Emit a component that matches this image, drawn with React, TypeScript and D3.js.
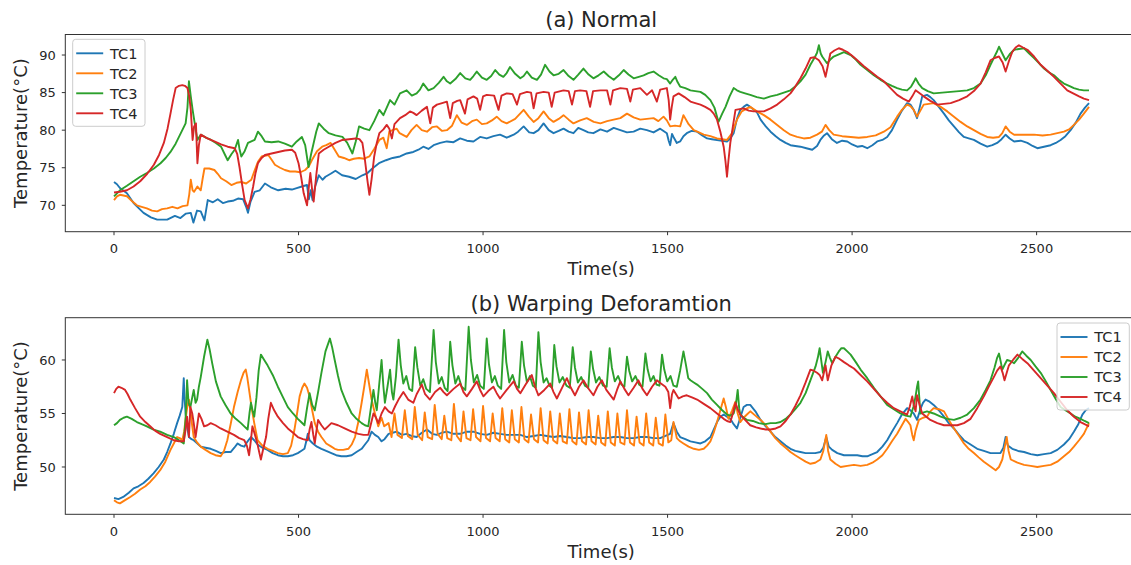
import React from 'react';
import * as d3 from 'd3';

type P = [number, number];

const xTicks = [0, 500, 1000, 1500, 2000, 2500];
const normalYTicks = [70, 75, 80, 85, 90];
const warpYTicks = [50, 55, 60];
const seriesNames = ['TC1', 'TC2', 'TC3', 'TC4'];
const seriesColors = ['#1f77b4', '#ff7f0e', '#2ca02c', '#d62728'];
const titles = ['(a) Normal', '(b) Warping Deforamtion'];
const xLabel = 'Time(s)';
const yLabel = 'Temperature(°C)';

const normalTC1: P[] = [[0,73.1],[8,72.8],[16,72.3],[35,71.6],[53,70.3],[80,69.0],[100,68.4],[117,68.1],[144,68.1],[165,68.6],[180,68.3],[195,68.9],[208,69.0],[215,67.7],[225,69.3],[235,69.2],[245,68.0],[254,70.7],[268,70.4],[281,70.8],[295,70.3],[308,70.5],[322,70.6],[336,70.9],[350,70.8],[358,69.8],[363,69.0],[370,70.5],[381,71.8],[395,72.0],[409,72.9],[425,72.4],[445,72.0],[465,72.2],[482,72.1],[495,72.3],[509,72.5],[523,72.7],[528,70.8],[533,72.0],[538,70.7],[545,72.5],[555,74.0],[565,73.4],[573,73.8],[587,74.2],[600,74.6],[618,74.0],[637,73.8],[655,73.5],[673,74.0],[687,74.3],[700,74.9],[718,75.6],[737,76.0],[755,76.3],[775,76.5],[793,76.9],[811,77.1],[825,77.4],[838,77.8],[852,77.5],[866,78.0],[884,78.3],[902,78.5],[920,78.4],[938,78.9],[956,78.6],[974,78.5],[992,79.1],[1010,78.9],[1028,79.2],[1046,79.4],[1064,79.0],[1083,79.4],[1095,79.8],[1110,80.5],[1125,79.7],[1137,79.6],[1150,80.0],[1164,80.9],[1178,80.0],[1191,79.6],[1205,79.9],[1218,80.2],[1232,79.8],[1245,79.6],[1258,80.3],[1272,80.0],[1285,79.7],[1299,79.6],[1318,80.1],[1336,79.8],[1354,80.3],[1372,80.0],[1390,79.7],[1408,79.8],[1426,80.2],[1444,80.0],[1462,79.7],[1480,80.2],[1498,79.6],[1503,78.6],[1507,78.0],[1512,79.5],[1516,79.1],[1525,78.3],[1534,78.5],[1543,79.2],[1552,79.6],[1565,79.9],[1580,79.8],[1594,79.3],[1607,78.9],[1620,78.8],[1634,78.7],[1648,78.6],[1661,78.5],[1670,78.9],[1679,79.6],[1688,81.5],[1697,82.7],[1706,83.1],[1715,83.4],[1724,83.1],[1742,82.4],[1752,81.4],[1766,80.5],[1779,79.8],[1793,79.2],[1806,78.7],[1820,78.3],[1833,78.0],[1846,77.9],[1860,77.8],[1876,77.6],[1892,77.4],[1905,77.9],[1914,78.7],[1924,79.3],[1932,79.6],[1945,78.8],[1959,78.3],[1973,78.6],[1987,78.5],[2000,78.1],[2014,77.8],[2027,77.9],[2041,77.6],[2055,78.0],[2068,78.5],[2082,78.7],[2095,79.1],[2108,80.0],[2122,81.4],[2135,82.6],[2149,83.6],[2158,83.4],[2167,82.7],[2176,81.6],[2183,83.0],[2190,84.5],[2203,84.7],[2212,84.4],[2221,84.0],[2235,83.1],[2249,82.2],[2262,81.3],[2276,80.5],[2290,79.7],[2303,79.1],[2316,78.9],[2330,78.7],[2348,78.2],[2366,77.8],[2380,78.0],[2393,78.3],[2405,78.8],[2416,79.4],[2427,78.9],[2439,78.5],[2457,78.6],[2475,78.3],[2489,77.9],[2502,77.6],[2520,77.8],[2538,78.0],[2552,78.3],[2565,78.7],[2578,79.2],[2592,80.0],[2606,81.0],[2619,82.2],[2631,83.0],[2642,83.6]];

const normalTC2: P[] = [[0,70.7],[8,71.2],[16,71.4],[35,71.2],[50,70.5],[62,70.0],[75,69.8],[89,69.6],[103,69.3],[117,69.2],[130,69.5],[144,69.6],[158,69.8],[172,69.6],[186,69.9],[199,70.0],[204,71.5],[208,73.4],[213,72.0],[217,71.8],[226,72.5],[235,72.0],[240,73.5],[245,74.9],[258,74.9],[272,74.7],[281,74.2],[290,73.6],[304,73.2],[318,72.7],[332,73.0],[345,73.1],[358,72.9],[372,73.4],[380,74.5],[390,75.8],[400,76.5],[418,76.7],[428,76.0],[436,75.4],[450,75.0],[463,74.7],[477,74.5],[491,74.5],[505,74.4],[518,74.7],[528,75.2],[536,76.0],[550,77.2],[564,77.8],[575,78.0],[587,78.3],[598,77.4],[609,76.5],[623,76.3],[637,76.0],[650,76.2],[664,76.3],[678,76.2],[692,76.5],[705,77.5],[719,78.7],[730,79.0],[739,77.6],[746,79.8],[755,80.0],[766,80.2],[774,79.6],[793,79.1],[806,80.0],[820,80.7],[834,80.0],[848,79.8],[862,80.4],[875,80.5],[889,79.9],[902,80.0],[916,80.6],[929,82.0],[942,81.0],[956,80.7],[970,81.2],[983,81.4],[997,80.8],[1010,80.9],[1024,81.3],[1037,81.8],[1050,81.2],[1064,80.9],[1087,81.5],[1110,82.7],[1124,81.8],[1137,81.1],[1150,81.6],[1164,82.5],[1178,81.6],[1191,81.1],[1205,81.5],[1218,82.0],[1232,81.4],[1245,80.9],[1263,81.3],[1281,81.6],[1300,81.1],[1318,80.9],[1336,81.2],[1354,81.4],[1372,81.6],[1390,82.2],[1408,81.7],[1426,81.4],[1444,81.5],[1462,81.6],[1475,81.2],[1489,81.8],[1498,81.3],[1507,80.5],[1520,80.6],[1534,80.5],[1543,82.0],[1557,80.8],[1571,80.0],[1585,79.7],[1598,79.4],[1616,79.2],[1634,78.9],[1648,78.8],[1661,78.7],[1675,79.6],[1688,81.4],[1701,82.5],[1715,82.9],[1724,83.1],[1742,82.5],[1761,82.0],[1779,81.4],[1797,80.7],[1815,80.0],[1833,79.4],[1851,79.1],[1869,78.9],[1887,79.0],[1905,79.4],[1918,79.8],[1928,80.7],[1938,80.0],[1950,79.4],[1973,79.2],[1996,79.1],[2018,79.0],[2041,79.1],[2064,79.3],[2086,79.8],[2104,80.4],[2122,81.8],[2135,82.7],[2149,83.4],[2158,83.2],[2167,82.7],[2176,81.8],[2185,82.6],[2194,83.4],[2208,83.5],[2221,83.6],[2240,83.1],[2258,82.5],[2276,81.8],[2294,81.1],[2312,80.5],[2330,80.0],[2348,79.5],[2366,79.1],[2382,79.0],[2398,79.1],[2407,79.6],[2416,80.5],[2427,79.8],[2439,79.4],[2466,79.4],[2493,79.4],[2516,79.3],[2538,79.4],[2556,79.6],[2574,79.8],[2588,80.1],[2601,80.7],[2615,81.4],[2628,82.2],[2642,83.1]];

const normalTC3: P[] = [[0,71.2],[8,71.6],[16,72.0],[35,72.6],[53,73.2],[71,73.8],[89,74.3],[108,74.9],[126,75.6],[140,76.3],[153,77.1],[167,78.2],[181,79.6],[194,80.9],[199,83.0],[203,86.5],[208,84.5],[213,82.7],[220,80.5],[226,78.7],[235,79.4],[249,79.0],[263,78.7],[276,78.3],[290,77.8],[300,76.8],[308,76.0],[318,76.8],[327,77.4],[336,78.7],[340,77.5],[345,76.5],[354,77.2],[363,78.3],[372,78.5],[381,78.7],[390,79.8],[400,79.2],[409,78.5],[427,78.4],[445,78.5],[463,78.2],[482,77.8],[495,78.5],[509,79.1],[518,78.0],[527,75.1],[534,76.8],[541,78.3],[548,79.8],[555,80.9],[568,80.2],[582,79.6],[600,79.3],[619,79.1],[632,78.3],[646,76.9],[655,78.5],[664,80.5],[678,80.2],[692,80.0],[705,81.2],[719,82.7],[730,82.0],[739,83.0],[748,84.0],[760,83.4],[775,84.9],[793,85.3],[807,84.6],[820,84.9],[829,85.4],[838,86.2],[852,85.3],[866,85.6],[880,86.3],[893,87.1],[902,86.5],[911,86.2],[925,86.8],[938,87.6],[952,86.9],[965,86.7],[974,87.2],[983,87.8],[997,87.0],[1010,86.7],[1022,87.2],[1033,88.0],[1044,87.4],[1055,87.1],[1064,87.6],[1073,88.4],[1087,87.5],[1101,86.9],[1110,87.2],[1119,87.8],[1132,87.0],[1146,86.7],[1157,87.4],[1168,88.7],[1180,87.8],[1191,87.3],[1205,87.5],[1218,88.0],[1232,87.2],[1245,86.7],[1258,87.4],[1272,88.2],[1286,87.4],[1299,86.9],[1313,87.3],[1327,87.8],[1340,87.2],[1354,86.7],[1368,87.3],[1381,88.0],[1394,87.4],[1408,86.9],[1422,87.1],[1435,87.3],[1448,87.6],[1462,87.8],[1476,87.3],[1489,86.9],[1498,86.8],[1507,86.2],[1514,86.7],[1521,87.1],[1527,86.4],[1534,85.8],[1548,85.6],[1562,85.3],[1575,85.2],[1589,85.1],[1602,84.7],[1616,84.0],[1627,83.0],[1638,81.1],[1648,82.2],[1657,83.1],[1668,84.5],[1679,85.6],[1688,85.3],[1697,85.1],[1710,84.9],[1724,84.7],[1742,84.4],[1761,84.2],[1779,84.5],[1797,84.7],[1815,85.0],[1833,85.3],[1846,85.8],[1860,86.5],[1874,87.4],[1887,88.7],[1900,89.8],[1905,90.3],[1910,91.3],[1915,90.2],[1919,89.8],[1932,88.9],[1941,89.4],[1950,89.8],[1964,90.1],[1978,90.4],[1996,90.0],[2010,89.4],[2023,88.7],[2041,88.0],[2059,87.3],[2077,86.7],[2095,86.2],[2108,85.9],[2122,85.6],[2135,85.4],[2149,85.3],[2160,85.8],[2167,86.4],[2172,86.9],[2180,86.2],[2190,85.6],[2205,85.2],[2221,84.9],[2244,85.0],[2267,85.1],[2290,85.2],[2312,85.3],[2330,85.6],[2348,86.2],[2362,87.3],[2375,88.7],[2386,89.8],[2393,90.5],[2398,91.1],[2407,90.2],[2416,89.3],[2427,90.1],[2439,90.7],[2452,90.8],[2466,90.9],[2480,90.2],[2493,89.6],[2507,88.9],[2520,88.2],[2533,87.7],[2547,87.3],[2560,86.7],[2574,86.2],[2588,85.9],[2601,85.6],[2615,85.4],[2628,85.3],[2642,85.3]];

const normalTC4: P[] = [[0,71.7],[16,71.8],[35,72.0],[53,72.5],[71,73.2],[90,74.2],[108,75.4],[122,76.7],[135,78.3],[145,80.2],[153,82.2],[160,84.0],[167,85.6],[176,85.9],[185,86.0],[192,85.9],[199,85.6],[204,84.5],[208,82.7],[213,78.7],[217,80.5],[222,80.9],[226,75.6],[230,78.0],[235,79.4],[253,78.9],[272,78.5],[290,78.1],[308,77.8],[327,77.6],[334,76.8],[340,75.1],[347,72.8],[354,70.7],[363,69.6],[370,70.8],[377,72.5],[383,74.2],[390,75.6],[400,76.3],[409,76.7],[427,76.9],[445,77.1],[463,77.3],[482,77.4],[491,77.0],[500,75.6],[507,73.8],[514,71.6],[523,70.0],[528,72.5],[532,74.3],[537,72.0],[541,70.5],[548,74.0],[555,76.9],[568,77.4],[582,77.8],[600,78.3],[619,78.7],[637,78.8],[655,78.9],[665,78.8],[673,78.3],[680,76.0],[687,73.2],[692,71.4],[698,73.5],[705,76.5],[712,78.3],[719,79.6],[730,80.1],[739,80.7],[746,80.2],[753,78.9],[760,80.8],[775,81.6],[789,82.0],[802,82.5],[811,82.3],[820,82.0],[834,82.6],[848,83.1],[857,80.9],[864,83.0],[875,83.4],[889,83.6],[902,83.8],[911,81.6],[918,83.6],[930,83.9],[938,84.0],[951,82.2],[958,84.1],[974,84.5],[984,84.2],[992,82.7],[1000,84.5],[1010,84.7],[1030,84.6],[1042,82.7],[1050,84.6],[1064,84.9],[1080,84.8],[1092,83.4],[1100,84.8],[1119,85.1],[1130,85.0],[1137,82.9],[1145,84.9],[1164,85.1],[1178,85.0],[1186,83.1],[1194,85.0],[1218,85.3],[1232,85.2],[1241,83.4],[1249,85.2],[1263,85.3],[1280,85.2],[1290,83.1],[1298,85.2],[1318,85.3],[1336,85.3],[1345,83.4],[1352,85.3],[1372,85.6],[1390,85.5],[1399,83.8],[1406,85.4],[1426,85.6],[1444,84.7],[1458,85.3],[1471,83.8],[1480,85.4],[1498,85.6],[1503,84.0],[1507,81.4],[1511,83.0],[1516,84.5],[1530,84.9],[1546,84.4],[1562,83.8],[1575,83.6],[1589,83.4],[1602,83.1],[1616,82.7],[1625,82.2],[1634,81.4],[1643,79.8],[1652,77.8],[1657,75.8],[1661,73.8],[1665,76.0],[1670,78.3],[1677,80.5],[1684,82.7],[1695,82.8],[1706,82.9],[1720,82.6],[1733,82.5],[1747,82.5],[1761,82.5],[1779,82.9],[1797,83.4],[1815,84.1],[1833,84.9],[1846,85.8],[1860,86.9],[1874,88.2],[1887,89.6],[1898,89.7],[1910,89.3],[1920,88.5],[1928,87.1],[1934,88.5],[1941,90.2],[1952,90.6],[1964,90.9],[1975,90.7],[1987,90.4],[2000,89.9],[2014,89.3],[2032,88.5],[2050,87.8],[2068,87.1],[2086,86.5],[2104,85.6],[2122,84.7],[2138,84.2],[2154,83.8],[2163,84.5],[2172,85.3],[2183,84.9],[2194,84.5],[2212,83.9],[2231,83.4],[2249,83.5],[2267,83.6],[2290,84.0],[2312,84.5],[2330,85.2],[2348,86.2],[2362,87.7],[2375,89.3],[2386,89.6],[2398,89.8],[2408,89.0],[2416,87.8],[2425,89.2],[2434,90.4],[2443,91.0],[2452,91.3],[2463,91.0],[2475,90.7],[2493,89.8],[2511,88.7],[2529,87.9],[2547,87.1],[2565,86.2],[2583,85.3],[2599,84.9],[2615,84.5],[2628,84.2],[2642,84.0]];

const warpTC1: P[] = [[0,47.1],[12,47.0],[25,47.2],[40,47.6],[53,48.0],[66,48.2],[80,48.5],[93,48.9],[107,49.4],[121,50.0],[135,50.7],[144,51.4],[153,52.2],[162,53.1],[171,54.1],[178,54.8],[185,55.6],[189,58.3],[191,56.5],[194,55.0],[198,53.8],[203,52.8],[210,52.6],[216,52.5],[226,52.2],[235,51.9],[248,51.8],[262,51.7],[276,51.5],[289,51.3],[303,51.4],[316,51.4],[326,51.8],[335,52.2],[344,52.0],[353,51.9],[362,52.4],[371,52.8],[380,52.5],[389,52.1],[402,51.8],[416,51.6],[430,51.3],[444,51.1],[458,51.0],[471,51.0],[485,51.1],[498,51.3],[507,51.5],[516,51.7],[521,52.4],[525,53.1],[530,52.5],[539,52.2],[550,51.9],[562,51.7],[575,51.5],[589,51.3],[602,51.1],[616,51.0],[630,51.0],[644,51.1],[657,51.4],[671,51.7],[680,52.1],[689,52.5],[698,53.3],[707,53.0],[716,52.8],[725,52.4],[733,52.6],[744,53.1],[755,53.2],[766,53.3],[780,53.0],[793,53.1],[806,52.9],[820,52.8],[834,53.2],[848,53.5],[862,53.1],[875,53.0],[888,53.2],[902,53.3],[920,53.1],[938,53.1],[956,53.3],[974,53.3],[992,53.1],[1010,53.0],[1028,53.2],[1046,53.1],[1064,53.0],[1083,53.0],[1101,53.0],[1119,52.8],[1137,52.9],[1155,53.0],[1173,52.9],[1191,52.8],[1209,52.9],[1227,52.8],[1245,52.7],[1263,52.7],[1281,52.8],[1299,52.8],[1318,52.7],[1336,52.7],[1354,52.8],[1372,52.8],[1390,52.7],[1408,52.7],[1426,52.8],[1444,52.8],[1462,52.7],[1480,52.7],[1494,52.9],[1507,53.1],[1516,54.1],[1525,53.3],[1534,52.8],[1548,52.6],[1562,52.4],[1575,52.3],[1589,52.2],[1602,52.4],[1616,52.8],[1625,53.5],[1634,54.2],[1643,54.7],[1652,54.9],[1661,54.7],[1670,54.5],[1679,54.0],[1688,53.6],[1697,54.6],[1706,55.6],[1715,55.8],[1724,55.8],[1738,55.2],[1752,54.4],[1766,53.8],[1779,53.3],[1792,52.8],[1806,52.4],[1820,52.0],[1833,51.7],[1846,51.5],[1860,51.4],[1874,51.3],[1887,51.3],[1900,51.3],[1914,51.4],[1922,51.8],[1930,52.8],[1937,51.9],[1946,51.6],[1960,51.3],[1978,51.1],[1996,51.1],[2014,51.1],[2028,51.0],[2041,51.0],[2055,51.2],[2068,51.4],[2082,51.9],[2095,52.5],[2108,53.3],[2122,54.1],[2135,54.9],[2149,55.5],[2158,55.3],[2167,55.0],[2176,54.4],[2185,55.4],[2192,56.0],[2199,56.3],[2210,56.1],[2221,55.8],[2235,55.3],[2249,54.7],[2262,54.1],[2276,53.6],[2290,53.0],[2303,52.5],[2321,52.1],[2339,51.7],[2357,51.5],[2375,51.3],[2389,51.3],[2402,51.3],[2410,51.8],[2416,52.8],[2422,52.0],[2434,51.7],[2450,51.5],[2466,51.4],[2484,51.2],[2502,51.1],[2520,51.2],[2538,51.3],[2556,51.6],[2574,52.1],[2588,52.6],[2601,53.3],[2613,54.0],[2624,54.9],[2633,55.3],[2642,55.5]];

const warpTC2: P[] = [[0,46.9],[8,46.7],[16,46.6],[30,46.9],[44,47.2],[57,47.5],[71,47.9],[85,48.2],[98,48.6],[111,49.1],[125,49.7],[139,50.5],[153,51.6],[162,52.2],[171,52.8],[178,52.7],[185,52.5],[190,53.3],[194,54.5],[198,55.5],[203,56.3],[208,55.0],[212,53.8],[216,52.8],[225,52.3],[235,51.9],[248,51.6],[262,51.3],[275,51.1],[289,51.0],[298,51.5],[307,52.5],[316,54.0],[325,55.6],[335,57.0],[344,58.1],[351,58.8],[357,59.1],[361,58.4],[366,57.2],[373,55.5],[380,54.1],[385,53.2],[389,52.5],[402,52.0],[416,51.7],[430,51.5],[444,51.3],[458,51.2],[471,51.3],[480,52.0],[489,53.5],[496,55.0],[503,56.6],[510,57.4],[516,57.8],[523,57.4],[530,56.6],[537,55.3],[544,54.1],[553,53.3],[562,52.8],[575,52.2],[589,51.9],[598,51.7],[607,51.6],[621,51.6],[635,51.7],[644,52.1],[653,52.8],[662,54.2],[671,56.0],[678,57.5],[685,59.1],[691,57.8],[698,56.3],[707,55.0],[716,53.8],[725,54.6],[732,53.8],[744,54.1],[752,52.8],[760,55.0],[768,53.0],[780,52.7],[788,55.3],[796,52.9],[808,52.6],[815,55.6],[823,53.0],[835,52.5],[842,55.1],[850,52.8],[862,52.6],[869,55.8],[877,53.1],[888,52.6],[895,54.8],[903,52.7],[914,52.5],[921,55.9],[929,52.9],[940,52.4],[947,55.2],[955,52.7],[966,52.5],[973,55.4],[981,52.8],[993,52.4],[1000,55.7],[1008,52.7],[1019,52.4],[1026,55.0],[1034,52.7],[1045,52.4],[1052,55.5],[1060,52.6],[1071,52.3],[1078,55.3],[1086,52.6],[1097,52.3],[1104,55.6],[1112,52.6],[1123,52.3],[1130,54.9],[1138,52.6],[1149,52.3],[1156,55.5],[1164,52.5],[1175,52.2],[1182,55.2],[1190,52.5],[1201,52.2],[1208,55.0],[1216,52.4],[1227,52.2],[1234,55.4],[1242,52.4],[1253,52.1],[1260,55.1],[1268,52.4],[1279,52.1],[1286,55.3],[1294,52.4],[1305,52.1],[1312,54.8],[1320,52.3],[1331,52.0],[1338,55.2],[1346,52.3],[1357,52.0],[1364,55.0],[1372,52.3],[1383,52.1],[1390,55.3],[1398,52.3],[1409,52.0],[1416,54.7],[1424,52.3],[1435,52.0],[1442,55.0],[1450,52.3],[1461,52.0],[1468,54.6],[1476,52.2],[1487,52.0],[1494,54.9],[1502,52.3],[1510,52.5],[1516,54.2],[1525,52.7],[1534,52.4],[1543,52.2],[1557,51.9],[1571,51.7],[1585,51.6],[1598,51.7],[1607,52.0],[1616,52.4],[1625,53.2],[1634,54.2],[1643,55.3],[1652,56.4],[1658,55.6],[1665,54.5],[1675,55.3],[1684,56.1],[1690,55.0],[1697,54.2],[1706,54.6],[1715,54.9],[1724,55.2],[1738,54.8],[1752,54.4],[1766,53.9],[1779,53.3],[1792,52.7],[1806,52.2],[1820,51.8],[1833,51.4],[1846,51.1],[1860,50.8],[1874,50.5],[1887,50.3],[1900,50.4],[1914,50.7],[1922,51.5],[1930,53.0],[1935,51.5],[1941,50.7],[1955,50.3],[1969,50.0],[1987,50.1],[2005,50.2],[2023,50.1],[2041,50.2],[2055,50.4],[2068,50.7],[2082,51.1],[2095,51.7],[2108,52.4],[2122,53.1],[2135,53.9],[2145,54.5],[2152,54.2],[2158,53.9],[2163,53.0],[2167,52.5],[2172,53.4],[2181,54.4],[2192,54.6],[2203,54.7],[2212,55.2],[2221,55.5],[2235,55.4],[2249,55.2],[2262,54.4],[2276,53.6],[2290,52.9],[2303,52.2],[2316,51.7],[2330,51.3],[2343,50.9],[2357,50.5],[2373,50.1],[2389,49.7],[2398,50.0],[2407,50.7],[2413,51.8],[2419,52.8],[2424,51.5],[2430,50.7],[2448,50.4],[2466,50.2],[2484,50.1],[2502,50.0],[2520,50.1],[2538,50.2],[2556,50.5],[2574,51.0],[2588,51.4],[2601,51.9],[2615,52.5],[2628,53.1],[2642,54.1]];

const warpTC3: P[] = [[0,53.9],[8,54.1],[16,54.4],[26,54.6],[35,54.7],[48,54.5],[62,54.2],[75,54.0],[89,53.8],[107,53.5],[125,53.3],[144,53.0],[162,52.8],[176,52.5],[189,52.2],[194,54.5],[198,58.1],[202,56.0],[207,55.6],[212,56.5],[216,57.2],[221,56.0],[225,56.3],[230,57.5],[235,58.4],[244,60.3],[253,61.9],[259,61.0],[266,59.7],[276,58.0],[289,56.6],[302,55.8],[316,55.0],[330,54.5],[344,54.1],[353,53.8],[362,53.5],[367,55.0],[371,56.0],[376,55.2],[380,54.7],[386,56.5],[392,59.0],[398,60.5],[407,60.0],[416,59.5],[430,58.6],[444,57.5],[458,56.5],[471,55.6],[485,55.0],[498,54.5],[507,54.2],[516,53.9],[523,55.5],[530,56.9],[537,55.8],[544,55.3],[553,57.0],[562,58.8],[573,60.8],[585,62.0],[591,61.2],[598,60.0],[607,58.5],[616,57.2],[630,56.0],[644,55.0],[657,54.5],[671,54.1],[680,53.9],[689,53.8],[696,55.5],[703,57.2],[708,56.0],[712,55.3],[718,57.5],[725,60.0],[730,57.5],[734,56.0],[741,57.5],[748,59.1],[753,57.0],[757,56.3],[764,58.5],[771,61.9],[777,59.5],[784,57.8],[792,58.5],[800,57.3],[808,57.1],[816,61.2],[822,59.3],[830,57.6],[838,58.2],[846,57.3],[856,57.0],[866,62.8],[872,59.8],[880,57.8],[888,58.4],[896,57.4],[904,57.1],[911,61.7],[917,59.5],[925,57.8],[933,58.5],[942,57.5],[952,57.2],[961,63.1],[967,60.0],[975,57.9],[984,58.6],[992,57.6],[1002,57.3],[1010,62.0],[1016,59.6],[1024,57.9],[1032,58.5],[1040,57.6],[1049,57.3],[1057,62.8],[1063,59.8],[1071,57.9],[1080,58.6],[1089,57.6],[1097,57.4],[1105,61.7],[1111,59.5],[1119,57.9],[1127,58.5],[1135,57.6],[1143,57.4],[1150,62.6],[1156,59.8],[1164,57.9],[1172,58.3],[1180,57.6],[1187,57.4],[1193,61.4],[1199,59.4],[1207,57.9],[1216,58.4],[1226,57.6],[1235,57.4],[1243,61.2],[1249,59.3],[1257,57.9],[1266,58.4],[1276,57.6],[1285,57.4],[1292,60.8],[1298,59.2],[1306,57.9],[1315,58.4],[1325,57.6],[1335,57.5],[1343,61.1],[1349,59.3],[1357,58.0],[1366,58.5],[1375,57.7],[1383,57.5],[1390,60.3],[1396,59.0],[1404,58.0],[1413,58.5],[1423,57.7],[1432,57.5],[1440,60.6],[1446,59.1],[1454,58.0],[1462,58.5],[1470,57.7],[1478,57.6],[1485,60.5],[1491,59.1],[1499,58.0],[1508,58.5],[1516,57.6],[1525,57.5],[1534,59.0],[1543,60.8],[1550,59.5],[1556,58.3],[1562,58.1],[1571,57.9],[1580,57.7],[1594,57.3],[1607,56.9],[1620,56.3],[1634,55.8],[1648,55.3],[1661,54.9],[1670,54.8],[1679,55.0],[1685,55.8],[1690,57.2],[1694,55.5],[1697,54.9],[1706,54.6],[1715,54.4],[1731,54.3],[1747,54.1],[1765,54.0],[1779,54.1],[1793,54.1],[1806,54.2],[1820,54.5],[1833,54.9],[1846,55.4],[1860,56.0],[1874,56.9],[1887,58.1],[1901,59.4],[1907,60.2],[1912,61.1],[1917,59.8],[1921,58.8],[1928,59.8],[1934,60.8],[1940,60.2],[1946,59.7],[1955,60.3],[1964,60.8],[1971,61.1],[1978,61.1],[1987,60.8],[1996,60.5],[2010,59.8],[2023,59.1],[2041,58.3],[2059,57.4],[2077,56.6],[2095,55.8],[2113,55.4],[2131,55.0],[2145,54.8],[2158,54.7],[2166,55.6],[2172,56.6],[2176,57.5],[2179,58.0],[2182,56.5],[2185,55.0],[2194,55.1],[2203,55.2],[2221,55.0],[2240,54.7],[2258,54.5],[2276,54.4],[2294,54.6],[2312,54.9],[2330,55.5],[2348,56.3],[2362,57.2],[2375,58.1],[2386,59.3],[2393,60.2],[2398,60.6],[2403,59.8],[2407,59.1],[2414,59.6],[2420,60.0],[2430,59.9],[2439,59.7],[2450,60.2],[2461,60.8],[2472,60.4],[2484,60.0],[2497,59.4],[2511,58.8],[2525,58.0],[2538,57.2],[2551,56.4],[2565,55.6],[2578,55.3],[2592,55.0],[2605,54.7],[2619,54.5],[2630,54.3],[2642,54.1]];

const warpTC4: P[] = [[0,56.9],[6,57.3],[12,57.5],[20,57.4],[30,57.2],[37,56.8],[44,56.3],[57,55.5],[71,54.7],[85,54.2],[98,53.8],[111,53.4],[125,53.1],[144,52.8],[162,52.5],[176,52.4],[189,52.4],[194,53.5],[198,54.7],[203,52.8],[207,55.6],[212,55.0],[216,54.1],[221,52.8],[226,54.0],[230,55.0],[237,54.5],[244,53.8],[253,53.9],[262,54.1],[275,53.9],[289,53.6],[307,53.3],[325,53.0],[339,52.7],[353,52.5],[360,52.0],[366,51.1],[371,52.5],[375,53.8],[382,53.0],[389,52.1],[394,51.3],[398,50.7],[405,51.8],[412,52.8],[418,54.5],[425,56.0],[434,55.3],[444,54.7],[458,54.1],[471,53.6],[485,53.2],[498,52.8],[512,52.6],[525,52.5],[530,53.5],[535,54.2],[540,53.0],[544,52.2],[549,53.5],[553,54.4],[562,53.9],[571,53.5],[580,53.8],[589,54.1],[607,53.9],[625,53.6],[644,53.3],[662,53.1],[676,53.0],[689,53.0],[696,54.0],[703,55.0],[710,54.6],[716,54.1],[725,55.0],[734,55.6],[744,55.2],[753,55.0],[762,55.7],[771,56.3],[784,57.0],[797,56.3],[811,56.0],[820,56.8],[834,57.7],[843,56.8],[856,56.3],[870,57.0],[884,57.4],[893,57.0],[902,56.7],[920,57.3],[938,57.8],[947,57.0],[956,56.6],[970,57.3],[983,58.0],[992,57.2],[1001,56.6],[1014,57.1],[1028,57.5],[1037,56.9],[1046,56.4],[1064,57.2],[1083,58.0],[1092,57.3],[1101,56.9],[1117,57.8],[1132,58.6],[1141,57.5],[1150,56.7],[1166,57.2],[1182,57.8],[1191,57.0],[1200,56.4],[1214,57.4],[1227,58.3],[1238,57.4],[1249,56.7],[1260,57.5],[1272,58.1],[1284,57.4],[1299,56.7],[1310,57.5],[1322,58.1],[1334,57.2],[1354,56.3],[1363,57.2],[1372,58.0],[1383,57.3],[1394,56.7],[1408,57.4],[1421,58.1],[1432,57.3],[1444,56.7],[1458,57.5],[1471,58.1],[1482,57.8],[1494,57.5],[1502,57.0],[1507,55.5],[1512,56.8],[1516,57.2],[1523,56.8],[1530,56.4],[1541,56.6],[1552,56.7],[1566,56.5],[1580,56.3],[1598,55.9],[1616,55.5],[1634,55.0],[1652,54.5],[1661,54.3],[1670,54.2],[1677,55.0],[1684,56.0],[1690,55.4],[1697,54.9],[1710,54.4],[1724,53.9],[1740,53.7],[1752,53.6],[1766,53.5],[1779,53.5],[1793,53.6],[1806,53.8],[1820,54.3],[1833,54.9],[1846,55.7],[1860,56.7],[1874,57.9],[1887,59.1],[1896,59.0],[1905,58.8],[1912,58.6],[1919,58.1],[1928,59.5],[1934,58.1],[1944,59.5],[1955,60.3],[1966,60.1],[1978,59.8],[1991,59.5],[2005,59.2],[2023,58.6],[2041,58.0],[2059,57.3],[2077,56.6],[2095,56.0],[2113,55.5],[2131,55.2],[2149,54.9],[2156,55.6],[2163,56.6],[2167,55.8],[2172,55.2],[2176,56.7],[2183,55.8],[2190,55.0],[2201,54.7],[2212,54.4],[2231,54.1],[2249,53.9],[2267,53.9],[2285,53.9],[2303,54.1],[2321,54.5],[2339,55.5],[2357,56.6],[2370,57.5],[2384,58.4],[2393,59.0],[2402,59.4],[2408,58.8],[2413,58.1],[2419,58.8],[2425,59.5],[2436,60.0],[2448,60.5],[2461,60.1],[2475,59.7],[2493,59.0],[2511,58.3],[2529,57.6],[2547,56.9],[2565,56.1],[2583,55.3],[2601,54.7],[2619,54.2],[2630,54.0],[2642,53.8]];

const FONT = '"DejaVu Sans", Verdana, sans-serif';
const INK = '#262626';

export default function App() {
  const W = 1131, H = 565;
  const x = d3.scaleLinear().domain([-132, 2772]).range([65.3, 1137]);
  const panels = [
    {
      key: 'a', title: titles[0], series: [normalTC1, normalTC2, normalTC3, normalTC4],
      y: d3.scaleLinear().domain([66.49, 92.73]).range([231.7, 34.5]),
      yTicks: normalYTicks, legendX: 72.7, legendY: 39.3,
    },
    {
      key: 'b', title: titles[1], series: [warpTC1, warpTC2, warpTC3, warpTC4],
      y: d3.scaleLinear().domain([45.58, 63.95]).range([514.3, 317.7]),
      yTicks: warpYTicks, legendX: 1057, legendY: 323,
    },
  ];
  const left = x.range()[0];
  const right = x.range()[1];

  return (
    <svg width={W} height={H} viewBox={`0 0 ${W} ${H}`}
      style={{ position: 'absolute', left: 0, top: 0, background: '#fff' }}
      fontFamily={FONT}>
      <rect x={0} y={0} width={W} height={H} fill="#fff" />
      {panels.map((p) => {
        const [bottom, top] = p.y.range();
        const line = d3.line<P>().x((d) => x(d[0])).y((d) => p.y(d[1]));
        const cx = (left + right) / 2;
        const cy = (top + bottom) / 2;
        return (
          <g key={p.key}>
            <defs>
              <clipPath id={`clip-${p.key}`}>
                <rect x={left} y={top} width={right - left} height={bottom - top} />
              </clipPath>
            </defs>
            <g clipPath={`url(#clip-${p.key})`}>
              {p.series.map((s, i) => (
                <path key={i} d={line(s) || ''} fill="none" stroke={seriesColors[i]}
                  strokeWidth={1.9} strokeLinejoin="round" />
              ))}
            </g>
            <rect x={left} y={top} width={right - left} height={bottom - top}
              fill="none" stroke="#333" strokeWidth={1} />
            {xTicks.map((t) => (
              <g key={t}>
                <line x1={x(t)} x2={x(t)} y1={bottom} y2={bottom + 3.5} stroke="#333" strokeWidth={1} />
                <text x={x(t)} y={bottom + 21.3} textAnchor="middle" fontSize={13} fill={INK}>{t}</text>
              </g>
            ))}
            {p.yTicks.map((t) => (
              <g key={t}>
                <line x1={left - 3.5} x2={left} y1={p.y(t)} y2={p.y(t)} stroke="#333" strokeWidth={1} />
                <text x={left - 9.5} y={p.y(t)} dy="0.36em" textAnchor="end" fontSize={13} fill={INK}>{t}</text>
              </g>
            ))}
            <text x={cx} y={top - 7.2} textAnchor="middle" fontSize={21} fill={INK}>{p.title}</text>
            <text x={cx} y={bottom + 43.5} textAnchor="middle" fontSize={18} fill={INK}>{xLabel}</text>
            <text transform={`translate(27,${cy}) rotate(-90)`} textAnchor="middle" fontSize={18} fill={INK}>{yLabel}</text>
            <g transform={`translate(${p.legendX},${p.legendY})`}>
              <rect x={0} y={0} width={72.3} height={87} rx={3} fill="#fff" fillOpacity={0.8} stroke="#ccc" strokeWidth={1} />
              {seriesNames.map((n, i) => (
                <g key={n} transform={`translate(0,${14 + 20 * i})`}>
                  <line x1={3.5} x2={30.5} y1={0} y2={0} stroke={seriesColors[i]} strokeWidth={1.9} />
                  <text x={37.3} y={0} dy="0.36em" fontSize={14.5} fill={INK}>{n}</text>
                </g>
              ))}
            </g>
          </g>
        );
      })}
    </svg>
  );
}
